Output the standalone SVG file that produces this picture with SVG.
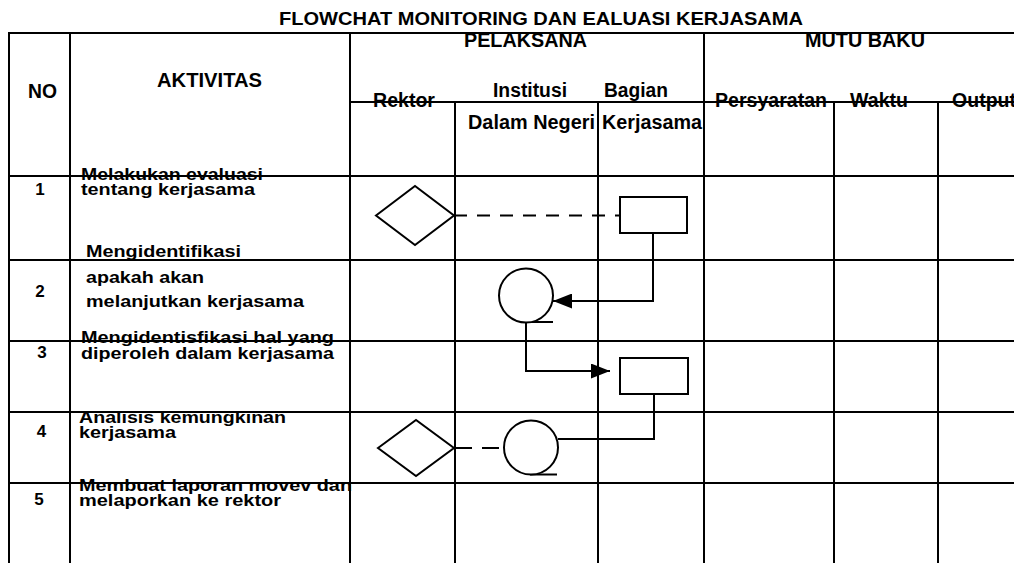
<svg xmlns="http://www.w3.org/2000/svg" width="1014" height="563" viewBox="0 0 1014 563">
<style>
text{font-family:"Liberation Sans",Arial,sans-serif;font-weight:bold;fill:#000}
.t{font-size:18.5px}
.h{font-size:19.5px}
.r{font-size:17px}
.n{font-size:17px;text-anchor:middle}
.grid line{stroke:#000;stroke-width:2}
.shape{fill:#fff;stroke:#000;stroke-width:2}
.conn{fill:none;stroke:#000;stroke-width:2}
.dash{stroke-dasharray:13 10}
</style>
<defs>
<marker id="arr" markerUnits="userSpaceOnUse" markerWidth="19" markerHeight="15" refX="19" refY="7.5" orient="auto">
<path d="M0,0 L19,7.5 L0,15 z" fill="#000"/>
</marker>
</defs>
<rect width="1014" height="563" fill="#fff"/>
<text class="t" x="279" y="25" textLength="524" lengthAdjust="spacingAndGlyphs">FLOWCHAT MONITORING DAN EALUASI KERJASAMA</text>
<g id="headers">
<text class="h" x="28" y="98" textLength="29" lengthAdjust="spacingAndGlyphs">NO</text>
<text class="h" x="157" y="86.5" textLength="105" lengthAdjust="spacingAndGlyphs">AKTIVITAS</text>
<text class="h" x="464" y="46.5" textLength="123" lengthAdjust="spacingAndGlyphs">PELAKSANA</text>
<text class="h" x="805" y="46.5" textLength="120" lengthAdjust="spacingAndGlyphs">MUTU BAKU</text>
<text class="h" x="373" y="106.5" textLength="62" lengthAdjust="spacingAndGlyphs">Rektor</text>
<text class="h" x="493" y="96.5" textLength="74" lengthAdjust="spacingAndGlyphs">Institusi</text>
<text class="h" x="604" y="96.5" textLength="64" lengthAdjust="spacingAndGlyphs">Bagian</text>
<text class="h" x="468" y="129" textLength="127" lengthAdjust="spacingAndGlyphs">Dalam Negeri</text>
<text class="h" x="602" y="129" textLength="100" lengthAdjust="spacingAndGlyphs">Kerjasama</text>
<text class="h" x="715" y="107" textLength="112" lengthAdjust="spacingAndGlyphs">Persyaratan</text>
<text class="h" x="850" y="107" textLength="58" lengthAdjust="spacingAndGlyphs">Waktu</text>
<text class="h" x="952" y="107" textLength="64" lengthAdjust="spacingAndGlyphs">Output</text>
</g>
<g id="rows">
<text class="n" x="40" y="195">1</text>
<text class="r" x="81" y="180" textLength="182" lengthAdjust="spacingAndGlyphs">Melakukan evaluasi</text>
<text class="r" x="81" y="195" textLength="174" lengthAdjust="spacingAndGlyphs">tentang kerjasama</text>
<text class="r" x="86" y="257" textLength="155" lengthAdjust="spacingAndGlyphs">Mengidentifikasi</text>
<text class="n" x="40" y="297">2</text>
<text class="r" x="86" y="283" textLength="118" lengthAdjust="spacingAndGlyphs">apakah akan</text>
<text class="r" x="86" y="307" textLength="218" lengthAdjust="spacingAndGlyphs">melanjutkan kerjasama</text>
<text class="n" x="42" y="358">3</text>
<text class="r" x="81" y="343" textLength="253" lengthAdjust="spacingAndGlyphs">Mengidentisfikasi hal yang</text>
<text class="r" x="81" y="359" textLength="253" lengthAdjust="spacingAndGlyphs">diperoleh dalam kerjasama</text>
<text class="n" x="41.5" y="437">4</text>
<text class="r" x="79" y="423" textLength="207" lengthAdjust="spacingAndGlyphs">Analisis kemungkinan</text>
<text class="r" x="79" y="438" textLength="97" lengthAdjust="spacingAndGlyphs">kerjasama</text>
<text class="n" x="39" y="505">5</text>
<text class="r" x="79" y="491" textLength="273" lengthAdjust="spacingAndGlyphs">Membuat laporan movev dan</text>
<text class="r" x="79" y="506" textLength="202" lengthAdjust="spacingAndGlyphs">melaporkan ke rektor</text>
</g>
<g class="grid" id="table">
<line x1="9" y1="33" x2="1014" y2="33"/>
<line x1="350" y1="102" x2="1014" y2="102"/>
<line x1="9" y1="176" x2="1014" y2="176"/>
<line x1="9" y1="260" x2="1014" y2="260"/>
<line x1="9" y1="341" x2="1014" y2="341"/>
<line x1="9" y1="412" x2="1014" y2="412"/>
<line x1="9" y1="483" x2="1014" y2="483"/>
<line x1="9" y1="32" x2="9" y2="563"/>
<line x1="70" y1="32" x2="70" y2="563"/>
<line x1="350" y1="32" x2="350" y2="563"/>
<line x1="704" y1="32" x2="704" y2="563"/>
<line x1="455" y1="102" x2="455" y2="563"/>
<line x1="598" y1="102" x2="598" y2="563"/>
<line x1="834" y1="102" x2="834" y2="563"/>
<line x1="938" y1="102" x2="938" y2="563"/>
</g>
<g id="connectors">
<path class="conn dash" d="M454,215.5 H620"/>
<path class="conn" d="M653,233 V301 H553" marker-end="url(#arr)"/>
<path class="conn" d="M526,322 H553"/>
<path class="conn" d="M526,322 V371 H610" marker-end="url(#arr)"/>
<path class="conn" d="M654,394 V439 H558"/>
<path class="conn" d="M454,448 H472 M482,448 H499"/>
<path class="conn" d="M530,474.5 H557"/>
</g>
<g id="node-diamond1"><polygon class="shape" points="376,215.5 415,186 454,215.5 415,245"/></g>
<g id="node-rect1"><rect class="shape" x="620" y="197" width="67" height="36"/></g>
<g id="node-circle1"><circle class="shape" cx="526" cy="295.5" r="27"/></g>
<g id="node-rect2"><rect class="shape" x="620" y="358" width="68" height="36"/></g>
<g id="node-diamond2"><polygon class="shape" points="378,448 416,420 454,448 416,476"/></g>
<g id="node-circle2"><circle class="shape" cx="531" cy="447.5" r="27"/></g>
</svg>
